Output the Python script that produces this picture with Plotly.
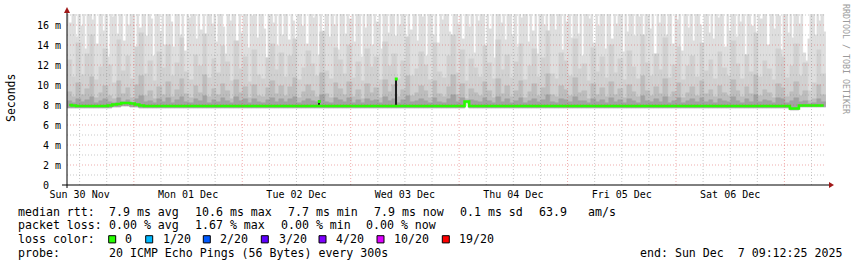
import pandas as pd
import plotly.graph_objects as go

# ---------------- data (values in ms) ----------------
start_time = "2025-11-30 09:12:25"
n_hours = 168

# outermost smoke envelope (max ping), half-hour columns
smoke_top = [
    17.3,16.2,17.3,17.3,14.8,17.3,15.9,17.3,13.6,17.3,17.3,16.5,17.3,14.1,17.3,17.3,15.4,17.3,12.8,17.3,16.8,17.3,15.1,17.3,
    17.3,14.4,17.3,16.0,17.3,17.3,13.2,17.3,15.7,17.3,17.3,14.9,17.3,16.6,12.9,17.3,17.3,15.3,17.3,14.0,17.3,17.3,16.3,13.8,
    17.3,17.3,15.0,17.3,13.4,17.3,16.7,17.3,17.3,14.6,17.3,15.5,17.3,12.6,17.3,17.3,16.1,17.3,14.3,17.3,17.3,15.8,13.1,17.3,
    16.4,17.3,17.3,14.2,17.3,15.2,17.3,17.3,13.7,17.3,16.9,17.3,14.7,17.3,17.3,15.6,12.7,17.3,17.3,16.2,17.3,13.9,17.3,15.0,
    17.3,17.3,14.5,17.3,16.4,13.3,17.3,17.3,15.9,17.3,14.1,17.3,17.3,16.7,17.3,13.0,17.3,15.4,17.3,17.3,14.8,17.3,16.0,17.3,
    13.5,17.3,17.3,15.1,17.3,16.6,17.3,14.3,17.3,17.3,12.8,17.3,15.7,17.3,17.3,14.0,17.3,16.3,17.3,13.6,17.3,17.3,15.2,17.3,
    17.3,14.9,17.3,16.0,17.3,17.3,13.4,17.3,15.5,17.3,17.3,14.4,17.3,16.8,17.3,12.9,17.3,17.3,15.0,17.3,14.2,17.3,16.5,17.3,
    17.3,15.3,13.7,17.3,17.3,16.1,17.3,14.6,17.3,17.3,15.8,17.3,13.2,17.3,16.4,17.3,17.3,14.0,17.3,15.6,17.3,12.7,17.3,17.3,
    16.2,17.3,14.5,17.3,17.3,15.0,17.3,13.8,17.3,16.7,17.3,17.3,14.3,17.3,15.4,17.3,13.1,17.3,17.3,16.0,17.3,14.8,17.3,17.3,
    15.5,17.3,17.3,13.5,17.3,16.3,17.3,14.7,17.3,17.3,15.1,17.3,12.9,17.3,17.3,16.6,17.3,14.2,17.3,15.9,17.3,17.3,13.6,17.3,
    17.3,14.6,17.3,16.1,17.3,17.3,13.3,17.3,15.3,17.3,17.3,14.9,17.3,16.8,17.3,13.9,17.3,17.3,15.6,17.3,12.8,17.3,16.2,17.3,
    17.3,15.0,17.3,17.3,14.1,17.3,16.5,17.3,13.4,17.3,17.3,15.7,17.3,14.4,17.3,17.3,16.0,12.6,17.3,17.3,15.2,17.3,14.6,17.3,
    16.7,17.3,17.3,13.8,17.3,15.4,17.3,17.3,14.8,17.3,16.3,17.3,13.0,17.3,17.3,15.9,17.3,14.3,17.3,16.6,17.3,17.3,14.0,17.3,
    17.3,15.6,17.3,16.9,13.5,17.3,17.3,15.2,17.3,14.7,17.3,17.3,16.1,17.3,13.2,12.4,14.6,17.3,17.3,15.0,17.3,16.4,17.3,15.3,
]
# inner smoke layers, hourly columns
smoke_upper = [
    12.5,10.8,14.2,11.0,13.1,15.0,10.5,11.8,13.6,12.0,10.2,14.5,11.4,12.9,10.6,13.8,15.2,11.1,12.4,10.4,13.3,11.7,14.0,10.9,
    12.2,14.7,11.3,10.5,13.0,11.9,15.1,10.7,12.6,11.2,13.9,12.3,10.4,14.4,11.6,12.8,10.3,13.5,11.0,10.6,12.7,14.1,11.5,13.2,
    10.8,12.9,14.6,10.5,11.7,13.4,12.1,10.9,15.3,11.4,10.6,13.7,12.5,11.1,14.0,10.7,12.3,10.4,13.6,11.8,12.8,10.5,14.3,11.9,
    13.1,10.6,12.4,14.8,10.9,11.6,13.3,12.0,10.5,14.2,11.3,10.7,12.9,15.0,11.2,13.5,10.4,12.6,11.7,10.8,13.9,12.2,10.6,14.5,
    11.5,13.0,10.7,12.3,14.1,10.5,11.9,13.6,10.8,12.7,15.4,11.1,10.6,13.2,12.4,10.9,14.6,11.6,12.1,10.4,13.7,11.3,12.8,10.7,
    14.0,11.2,12.6,10.5,13.4,11.8,10.6,15.0,12.2,10.9,13.1,11.5,14.7,10.7,12.0,13.8,10.5,11.9,12.9,10.8,14.2,11.4,12.5,10.6,
    13.3,11.7,10.9,14.4,12.1,10.6,13.0,11.3,15.2,10.8,12.4,11.6,10.5,13.6,12.8,10.7,11.9,14.1,10.9,12.2,9.4,10.2,13.5,11.1,
]
smoke_mid = [
    9.3,8.8,10.2,9.0,9.6,10.8,8.7,9.2,9.9,8.9,8.6,10.4,9.1,9.7,8.7,10.0,10.9,8.9,9.4,8.6,9.8,9.0,10.3,8.8,
    9.5,10.6,9.1,8.7,9.9,9.2,11.0,8.8,9.6,9.0,10.1,9.4,8.6,10.5,9.2,9.8,8.7,10.0,8.9,8.8,9.7,10.4,9.1,9.9,
    8.9,9.8,10.7,8.7,9.3,10.0,9.4,8.8,11.2,9.1,8.7,10.2,9.6,9.0,10.3,8.8,9.5,8.6,10.1,9.2,9.7,8.7,10.5,9.3,
    10.0,8.8,9.5,10.9,8.9,9.2,9.9,9.4,8.7,10.4,9.1,8.8,9.8,11.0,9.0,10.1,8.6,9.6,9.2,8.9,10.3,9.4,8.7,10.6,
    9.1,9.9,8.8,9.4,10.4,8.7,9.3,10.1,8.9,9.7,11.1,9.0,8.8,9.9,9.5,8.9,10.7,9.2,9.4,8.6,10.1,9.0,9.7,8.8,
    10.3,9.0,9.6,8.7,10.0,9.3,8.8,10.9,9.4,8.9,9.8,9.1,10.6,8.8,9.3,10.2,8.7,9.2,9.8,8.9,10.4,9.1,9.5,8.8,
    9.9,9.2,8.9,10.5,9.4,8.8,9.8,9.1,11.0,8.9,9.5,9.2,8.7,10.1,9.7,8.8,9.3,10.3,8.9,9.4,8.4,8.6,10.0,9.0,
]
smoke_inner = [
    8.4,8.2,8.6,8.3,8.5,8.8,8.2,8.4,8.6,8.3,8.2,8.7,8.3,8.5,8.2,8.6,8.9,8.3,8.4,8.2,8.6,8.3,8.7,8.2,
    8.5,8.8,8.3,8.2,8.6,8.4,8.9,8.2,8.5,8.3,8.7,8.4,8.2,8.8,8.4,8.6,8.2,8.6,8.3,8.2,8.5,8.7,8.3,8.6,
    8.3,8.6,8.8,8.2,8.4,8.6,8.4,8.3,9.0,8.3,8.2,8.7,8.5,8.3,8.7,8.2,8.5,8.2,8.6,8.4,8.5,8.2,8.8,8.4,
    8.6,8.2,8.5,8.9,8.3,8.4,8.6,8.4,8.2,8.7,8.3,8.2,8.6,9.0,8.3,8.7,8.2,8.5,8.4,8.3,8.7,8.4,8.2,8.8,
    8.3,8.6,8.2,8.4,8.7,8.2,8.4,8.6,8.3,8.5,9.0,8.3,8.2,8.6,8.5,8.3,8.8,8.4,8.4,8.2,8.6,8.3,8.5,8.2,
    8.7,8.3,8.5,8.2,8.6,8.4,8.2,8.9,8.4,8.3,8.6,8.3,8.8,8.2,8.4,8.7,8.2,8.4,8.6,8.3,8.7,8.3,8.5,8.2,
    8.6,8.4,8.3,8.8,8.4,8.2,8.6,8.3,9.0,8.3,8.5,8.4,8.2,8.7,8.6,8.2,8.4,8.7,8.3,8.4,8.1,8.2,8.6,8.3,
]
smoke_base = [
    7.75,7.75,7.75,7.75,7.75,7.75,7.75,7.75,7.75,7.75,7.8,7.85,7.9,7.9,7.85,7.8,7.75,7.75,7.75,7.75,7.75,7.75,7.75,7.75,
    7.75,7.75,7.75,7.75,7.75,7.75,7.75,7.75,7.75,7.75,7.75,7.75,7.75,7.75,7.75,7.75,7.75,7.75,7.75,7.75,7.75,7.75,7.75,7.75,
    7.75,7.75,7.75,7.75,7.75,7.75,7.75,7.75,7.75,7.75,7.75,7.75,7.75,7.75,7.75,7.75,7.75,7.75,7.75,7.75,7.75,7.75,7.75,7.75,
    7.75,7.75,7.75,7.75,7.75,7.75,7.75,7.75,7.75,7.75,7.75,7.75,7.75,7.75,7.75,7.75,8.2,7.75,7.75,7.75,7.75,7.75,7.75,7.75,
    7.75,7.75,7.75,7.75,7.75,7.75,7.75,7.75,7.75,7.75,7.75,7.75,7.75,7.75,7.75,7.75,7.75,7.75,7.75,7.75,7.75,7.75,7.75,7.75,
    7.75,7.75,7.75,7.75,7.75,7.75,7.75,7.75,7.75,7.75,7.75,7.75,7.75,7.75,7.75,7.75,7.75,7.75,7.75,7.75,7.75,7.75,7.75,7.75,
    7.75,7.75,7.75,7.75,7.75,7.75,7.75,7.75,7.75,7.75,7.75,7.75,7.75,7.75,7.75,7.75,7.55,7.55,7.8,7.8,7.8,7.8,7.8,7.8,
]
median_rtt = [
    8.0,7.95,7.9,7.9,7.9,7.9,7.9,7.9,7.9,7.95,8.05,8.1,8.2,8.2,8.15,8.05,7.95,7.9,7.9,7.9,7.9,7.9,7.9,7.9,
    7.9,7.9,7.9,7.9,7.9,7.9,7.9,7.9,7.9,7.9,7.9,7.9,7.9,7.9,7.9,7.9,7.9,7.9,7.9,7.9,7.9,7.9,7.9,7.9,
    7.9,7.9,7.9,7.9,7.9,7.9,7.9,7.9,7.9,7.9,7.9,7.9,7.9,7.9,7.9,7.9,7.9,7.9,7.9,7.9,7.9,7.9,7.9,7.9,
    7.9,7.9,7.9,7.9,7.9,7.9,7.9,7.9,7.9,7.9,7.9,7.9,7.9,7.9,7.9,7.9,8.35,7.9,7.9,7.9,7.9,7.9,7.9,7.9,
    7.9,7.9,7.9,7.9,7.9,7.9,7.9,7.9,7.9,7.9,7.9,7.9,7.9,7.9,7.9,7.9,7.9,7.9,7.9,7.9,7.9,7.9,7.9,7.9,
    7.9,7.9,7.9,7.9,7.9,7.9,7.9,7.9,7.9,7.9,7.9,7.9,7.9,7.9,7.9,7.9,7.9,7.9,7.9,7.9,7.9,7.9,7.9,7.9,
    7.9,7.9,7.9,7.9,7.9,7.9,7.9,7.9,7.9,7.9,7.9,7.9,7.9,7.9,7.9,7.9,7.65,7.65,7.95,7.95,7.95,7.95,7.95,7.95,
]
# short median spikes (single RRD steps)
spike_times = ["2025-12-02 17:03", "2025-12-03 10:05"]
spike_values = [8.35, 10.6]
spike_floor = [7.9, 7.9]

day_labels = ["Sun 30 Nov", "Mon 01 Dec", "Tue 02 Dec", "Wed 03 Dec", "Thu 04 Dec", "Fri 05 Dec", "Sat 06 Dec"]
day_label_times = ["2025-11-30 12:00", "2025-12-01 12:00", "2025-12-02 12:00", "2025-12-03 12:00",
                   "2025-12-04 12:00", "2025-12-05 12:00", "2025-12-06 12:00"]
y_tick_values = [0, 2, 4, 6, 8, 10, 12, 14, 16]
y_tick_labels = ["0\u00a0\u00a0", "2 m", "4 m", "6 m", "8 m", "10 m", "12 m", "14 m", "16 m"]

rtt_stats = ["7.9 ms avg", "10.6 ms max", "7.7 ms min", "7.9 ms now", "0.1 ms sd", "63.9", "am/s"]
loss_stats = ["0.00 % avg", "1.67 % max", "0.00 % min", "0.00 % now"]
loss_labels = ["0", "1/20", "2/20", "3/20", "4/20", "10/20", "19/20"]
loss_colors = ["#26ff00", "#00b8ff", "#0059ff", "#5e00ff", "#7e00ff", "#dd00ff", "#ff0000"]
probe_text = "20 ICMP Echo Pings (56 Bytes) every 300s"
end_text = "end: Sun Dec  7 09:12:25 2025"

# ---------------- layout helpers (pixels -> paper) ----------------
W, H = 857, 267
PL, PR, PT, PB = 67, 826, 14, 185
PW, PH = PR - PL, PB - PT
def px(x): return (x - PL) / PW
def py(y): return (PB - y) / PH

MONO = "DejaVu Sans Mono"
t0 = pd.Timestamp(start_time)
t1 = t0 + pd.Timedelta(hours=n_hours)
centers = [t0 + pd.Timedelta(minutes=60 * i + 30) for i in range(n_hours)]
half_centers = [t0 + pd.Timedelta(minutes=30 * i + 15) for i in range(len(smoke_top))]
half_base = [smoke_base[i // 2] for i in range(len(smoke_top))]
HOUR_MS = 3600 * 1000

fig = go.Figure()
fig.add_trace(go.Bar(
    x=half_centers, y=[v - b for v, b in zip(smoke_top, half_base)], base=half_base,
    width=HOUR_MS / 2, marker=dict(color="#dedede", line=dict(width=0.4, color="#dedede")),
    hoverinfo="skip"))
layers = [(smoke_upper, "#d0d0d0"), (smoke_mid, "#bdbdbd"), (smoke_inner, "#a2a2a2")]
for vals, col in layers:
    fig.add_trace(go.Bar(
        x=centers, y=[v - b for v, b in zip(vals, smoke_base)], base=smoke_base,
        width=HOUR_MS, marker=dict(color=col, line=dict(width=0.5, color=col)),
        hoverinfo="skip"))

fig.add_trace(go.Bar(
    x=pd.to_datetime(spike_times), y=[v - f for v, f in zip(spike_values, spike_floor)], base=spike_floor,
    width=18 * 60 * 1000, marker=dict(color="#1e1e1e", line=dict(width=0)), hoverinfo="skip"))

fig.add_trace(go.Scatter(
    x=centers, y=median_rtt, mode="lines", line=dict(color="#26ff00", width=2.6, shape="hvh"),
    hoverinfo="skip"))
fig.add_trace(go.Scatter(
    x=pd.to_datetime(spike_times), y=spike_values, mode="markers",
    marker=dict(symbol="square", size=3, color="#26ff00", line=dict(width=0)), hoverinfo="skip"))

shapes = []
for v in range(1, 18):
    major = v % 2 == 0
    shapes.append(dict(type="line", xref="x", yref="y", x0=t0, x1=t1, y0=v, y1=v, layer="above",
                       line=dict(color="rgba(220,70,70,0.45)" if major else "rgba(120,120,120,0.40)",
                                 width=1, dash="1px,2px")))
t = t0.ceil("6h")
while t < t1:
    major = t.hour == 0
    shapes.append(dict(type="line", xref="x", yref="y", x0=t, x1=t, y0=0, y1=17.1, layer="above",
                       line=dict(color="rgba(220,70,70,0.45)" if major else "rgba(120,120,120,0.40)",
                                 width=1, dash="1px,2px")))
    t += pd.Timedelta(hours=6)
shapes.append(dict(type="line", xref="paper", yref="paper", x0=px(62), x1=px(829), y0=py(185), y1=py(185),
                   line=dict(color="black", width=1), layer="above"))
shapes.append(dict(type="line", xref="paper", yref="paper", x0=px(67), x1=px(67), y0=py(188), y1=py(11),
                   line=dict(color="black", width=1), layer="above"))
shapes.append(dict(type="path", xref="paper", yref="paper",
                   path=f"M {px(829)},{py(182)} L {px(834)},{py(185)} L {px(829)},{py(188)} Z",
                   fillcolor="#a01818", line=dict(width=0), layer="above"))
shapes.append(dict(type="path", xref="paper", yref="paper",
                   path=f"M {px(64)},{py(13)} L {px(67)},{py(7)} L {px(70)},{py(13)} Z",
                   fillcolor="#a01818", line=dict(width=0), layer="above"))

annotations = []
def txt(x, y, s, size=11.6, color="black", anchor="left", angle=0):
    annotations.append(dict(xref="paper", yref="paper", x=px(x), y=py(y), text=s, showarrow=False,
                            xanchor=anchor, yanchor="middle", textangle=angle,
                            font=dict(family=MONO, size=size, color=color)))

txt(11, 98, "Seconds", size=11.5, anchor="center", angle=-90)
txt(846, 59, "RRDTOOL / TOBI OETIKER", size=8.3, color="#9a9a9a", anchor="center", angle=90)

row_y = [211.5, 225.3, 239.3, 253.0]
txt(16, row_y[0], "median rtt:")
for s, x in zip(rtt_stats, [107.3, 193.3, 286.0, 371.7, 458.3, 537.3, 586.0]):
    txt(x, row_y[0], s)
txt(16, row_y[1], "packet loss:")
for s, x in zip(loss_stats, [107.3, 193.3, 279.3, 364.3]):
    txt(x, row_y[1], s)
txt(16, row_y[2], "loss color:")
for s, c, sx, tx in zip(loss_labels, loss_colors,
                        [108.7, 145.7, 203.3, 261.3, 319.0, 377.0, 442.3],
                        [123.3, 160.7, 218.3, 276.7, 334.3, 392.0, 457.3]):
    shapes.append(dict(type="rect", xref="paper", yref="paper", x0=px(sx), x1=px(sx + 7),
                       y0=py(row_y[2] + 3.6), y1=py(row_y[2] - 3.6), fillcolor=c,
                       line=dict(color="black", width=1)))
    txt(tx, row_y[2], s)
txt(16, row_y[3], "probe:")
txt(107.3, row_y[3], probe_text)
txt(638.3, row_y[3], end_text)

fig.update_layout(
    width=W, height=H, margin=dict(l=PL, r=W - PR, t=PT, b=H - PB),
    paper_bgcolor="white", plot_bgcolor="white", showlegend=False,
    barmode="overlay", bargap=0, shapes=shapes, annotations=annotations,
    xaxis=dict(type="date", range=[t0, t1], tickmode="array", tickvals=pd.to_datetime(day_label_times),
               ticktext=day_labels, showgrid=False, zeroline=False, showline=False, ticks="",
               tickfont=dict(family=MONO, size=10, color="black"), ticklabelstandoff=2),
    yaxis=dict(range=[0, 17.1], tickmode="array", tickvals=y_tick_values, ticktext=y_tick_labels,
               showgrid=False, zeroline=False, showline=False, ticks="",
               tickfont=dict(family=MONO, size=10, color="black"), ticklabelstandoff=5),
)
fig.write_html("out.html")
